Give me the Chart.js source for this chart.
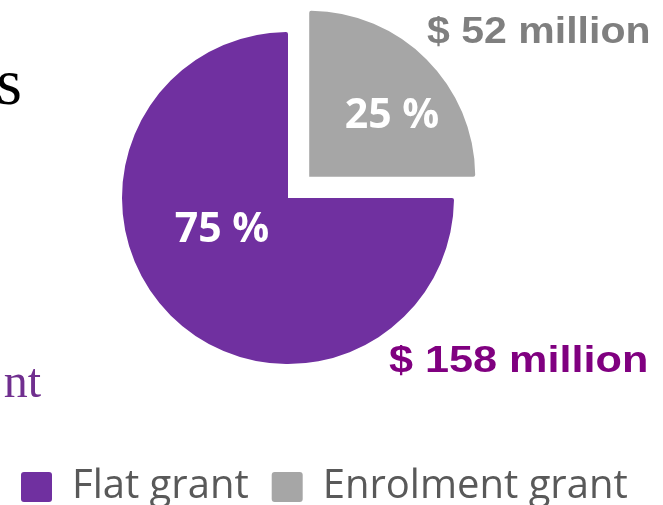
<!DOCTYPE html>
<html>
<head>
<meta charset="utf-8">
<script src="https://cdn.jsdelivr.net/npm/chart.js@4.4.1/dist/chart.umd.min.js"></script>
<style>
  html, body { margin: 0; padding: 0; background: #fff; }
  #wrap { position: relative; width: 663px; height: 505px; }
</style>
</head>
<body>
<div id="wrap"><canvas id="chart-grants" width="663" height="505"></canvas></div>
<script>
// ── Grant split (pie) ───────────────────────────────────────────────────────

// ─ Data ─────────────────────────────────────────────────────────────────────
const CATEGORIES  = ['Flat grant', 'Enrolment grant'];
const SHARES      = [75, 25];          // percent
const AMOUNTS     = [158, 52];         // $ million
const FRAGMENTS   = ['s', 'nt'];       // slide text cut off at the left edge

// ─ Colours ──────────────────────────────────────────────────────────────────
const SLICE_COLORS  = ['#7030A0', '#A6A6A6'];
const AMOUNT_COLORS = ['#800080', '#7F7F7F'];
const LEGEND_COLOR  = '#595959';

// ─ Geometry ─────────────────────────────────────────────────────────────────
const PIE_CX = 288;
const PIE_CY = 198;
const PIE_R  = 166;

// label anchors relative to pie centre (x, baseline), horizontal stretch
const PCT_POS    = [[-66, 44], [104, -70]];
const AMOUNT_POS = [[101, 174], [139, -155]];
const AMOUNT_SX  = [1.2, 1.14];

// draw text squeezed/stretched horizontally
function drawText(ctx, text, x, y, font, color, sx, align) {
  ctx.save();
  ctx.font = font;
  ctx.fillStyle = color;
  ctx.textAlign = align || 'left';
  ctx.textBaseline = 'alphabetic';
  ctx.translate(x, y);
  ctx.scale(sx || 1, 1);
  ctx.fillText(text, 0, 0);
  ctx.restore();
}

const grantLabels = {
  id: 'grantLabels',
  afterLayout(chart) {
    // keep the pie where the slide had it, legend stays at the bottom
    const a = chart.chartArea;
    a.left = PIE_CX - 200; a.right = PIE_CX + 200;
    a.top = PIE_CY - 200;  a.bottom = PIE_CY + 200;
    a.width = 400; a.height = 400;
  },
  afterDraw(chart) {
    const ctx = chart.ctx;
    const arcs = chart.getDatasetMeta(0).data;
    arcs.forEach((arc, i) => {
      const [px, py] = PCT_POS[i];
      drawText(ctx, SHARES[i] + ' %', arc.x + px, arc.y + py,
        'bold 41px "Open Sans"', '#FFFFFF', 1, 'center');
      const [ax, ay] = AMOUNT_POS[i];
      drawText(ctx, '$ ' + AMOUNTS[i] + ' million', arc.x + ax, arc.y + ay,
        'bold 36px "Liberation Sans"', AMOUNT_COLORS[i], AMOUNT_SX[i], 'left');
    });
    // cut-off slide text
    drawText(ctx, FRAGMENTS[0], 22, 104, '66px "Liberation Serif"', '#000000', 1, 'right');
    drawText(ctx, FRAGMENTS[1], 41, 397, '48px "Liberation Serif"', '#702F8F', 1, 'right');
  }
};

const ctx = document.getElementById('chart-grants').getContext('2d');

new Chart(ctx, {
  type: 'pie',
  data: {
    labels: CATEGORIES,
    datasets: [{
      data: SHARES,
      backgroundColor: SLICE_COLORS,
      borderWidth: 0,
      borderRadius: 2,
      offset: [0, 120],   // arc draws offset / 4 -> ~30px pull-out
      hoverOffset: 0,
      clip: false,
    }]
  },
  options: {
    responsive: false,
    animation: false,
    rotation: 90,
    radius: PIE_R,
    layout: { padding: { left: -2, bottom: -12 } },
    plugins: {
      tooltip: { enabled: false },
      legend: {
        position: 'bottom',
        align: 'start',
        labels: {
          boxWidth: 31,
          boxHeight: 30,
          useBorderRadius: true,
          borderRadius: 3,
          padding: 23,
          color: LEGEND_COLOR,
          font: { family: '"Open Sans"', size: 40 }
        }
      }
    }
  },
  plugins: [grantLabels]
});
</script>
</body>
</html>
